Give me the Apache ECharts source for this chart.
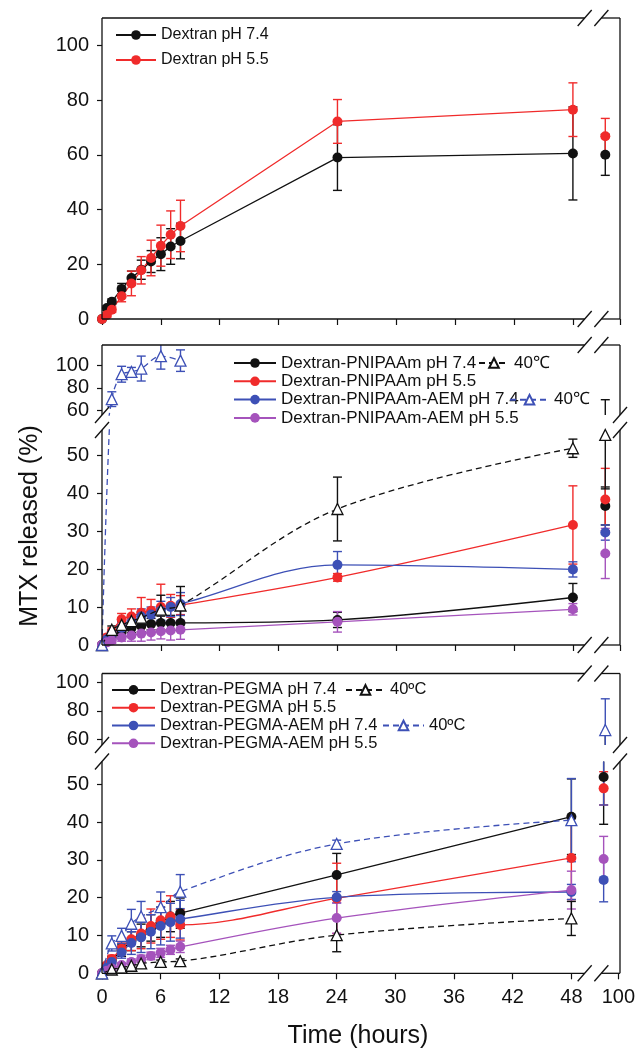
<!DOCTYPE html>
<html><head><meta charset="utf-8">
<script src="https://cdn.jsdelivr.net/npm/echarts@6/dist/echarts.min.js"></script>
<style>html,body{margin:0;padding:0;background:#fff}#c{width:638px;height:1050px}</style>
</head><body><div id="c"></div>
<script>
// ---------- data ----------
const hours    = [0, 0.5, 1, 2, 3, 4, 5, 6, 7, 8, 24, 48, 96];
const hoursTri = [0, 1, 2, 3, 4, 6, 8, 24, 48, 96];
const xTickHours = [0, 6, 12, 18, 24, 30, 36, 42, 48];
const xEndLabel = '100';
const yTicksP1 = [0, 20, 40, 60, 80, 100];
const yTicksLow = [0, 10, 20, 30, 40, 50];
const yTicksHigh = [60, 80, 100];

// Panel 1
const dex74    = [0, 4, 6.3, 11, 15, 18, 21, 23.7, 26.5, 28.5, 59, 60.5, 60];
const dex74Err = [0, 0.8, 1, 2, 2.5, 3.5, 4, 6, 6.5, 6.5, 12, 17, 7.5];
const dex55    = [0, 1.5, 3.4, 8.3, 13, 17.8, 22.3, 26.8, 30.8, 34, 72.2, 76.5, 66.8];
const dex55Err = [0, 0.8, 1, 2, 4.5, 5, 6.5, 7.5, 8.7, 9.4, 8, 9.8, 6.5];

// Panel 2
const pn74     = [0, 1.5, 2.5, 3.5, 4.5, 5, 5.5, 5.8, 5.8, 5.8, 6.6, 12.5, 36.6];
const pn74Err  = [0, 0.5, 0.8, 1, 1.2, 1.5, 1.5, 1.8, 2, 2, 2, 3.7, 5];
const pn55     = [0, 2, 3.5, 6.8, 7.5, 8.5, 9, 10, 10.3, 10.5, 17.8, 31.6, 38.3];
const pn55Err  = [0, 0.8, 1, 1.5, 2, 4, 3, 6, 3, 2.5, 1, 10.3, 8.2];
const pnA74    = [0, 1.5, 3, 4.5, 6, 7.5, 8, 9, 10, 10.8, 21.1, 19.9, 29.6];
const pnA74Err = [0, 0.5, 1, 1.5, 1.5, 2, 2, 2.5, 2.5, 3, 3.5, 2, 2];
const pnA55    = [0, 0.7, 1.2, 2, 2.5, 3, 3.3, 3.6, 3.8, 4, 6.1, 9.4, 24.1];
const pnA55Err = [0, 0.5, 0.8, 1, 1.5, 2, 2, 2, 2.5, 2.5, 2.7, 1.5, 6.6];
const pn74T40     = [0, 4, 5.3, 6.3, 7.2, 9.3, 10.4, 35.8, 51.8, 55.3];
const pn74T40Err  = [0, 1, 1, 1.2, 1.5, 3.8, 5, 8.4, 2.4, 14.2];
const pnA74T40    = [0, 70, 92, 94, 97, 108, 104, null, null, null];
const pnA74T40Err = [0, 6.5, 7, 4, 11, 11.5, 9.5, 0, 0, 0];

// Panel 3
const pg74     = [0, 2, 3.5, 6, 8.5, 10, 12, 13.5, 15, 15.9, 26, 41.4, 51.9];
const pg74Err  = [0, 0.5, 1, 1.5, 2.5, 3, 3.5, 4, 4, 4, 5.7, 10, 12.5];
const pg55     = [0, 2.2, 3.8, 6.5, 9, 10.5, 12.5, 14, 15, 12.8, 19.8, 30.5, 48.9];
const pg55Err  = [0, 0.5, 1, 1.5, 3, 4, 4.5, 5, 5.5, 4, 9.3, 11, 4.4];
const pgA74    = [0, 1.5, 3, 5.5, 8, 9.5, 11, 12.5, 13.5, 14.3, 20.1, 21.5, 24.7];
const pgA74Err = [0, 0.5, 1, 1.5, 3, 4, 4.5, 5, 5, 5, 1.5, 2, 5.8];
const pgA55    = [0, 0.7, 1.3, 2.2, 3, 3.8, 4.6, 5.4, 6.2, 7, 14.6, 22, 30.2];
const pgA55Err = [0, 0.3, 0.5, 0.5, 0.8, 1, 1, 1.2, 1.2, 1.5, 4, 5, 6];
const pg74T40     = [0, 1, 1.5, 2, 2.6, 3, 3.2, 10.1, 14.5, null];
const pg74T40Err  = [0, 0.3, 0.3, 0.4, 0.5, 0.5, 0.6, 4.4, 4.5, 0];
const pgA74T40    = [0, 7.9, 9.9, 13.1, 15, 17.5, 21.6, 34.2, 40.5, 66.5];
const pgA74T40Err = [0, 2, 2, 3.8, 4, 4, 4.5, 1, 11, 22];

// ---------- scale / style ----------
const FONT = '"Liberation Sans", Arial, sans-serif';
const C_BLACK = '#111111', C_RED = '#f02b2b', C_BLUE = '#3d50b6', C_PURPLE = '#a553bc';
const X_BREAK_A = 49.2, X_BREAK_B = 50.9, X_END = 52.8;
function mapX(t) { return t <= 48 ? t : 51.3 + (t - 96) * 0.375; }

const grids = [
  { top: 18,    height: 301 },   // panel 1
  { top: 345,   height: 70 },    // panel 2 upper
  { top: 430,   height: 215 },   // panel 2 lower
  { top: 673.5, height: 71.5 },  // panel 3 upper
  { top: 761.5, height: 211.8 }  // panel 3 lower
];
const yRanges = [[0, 110], [56, 117.8], [0, 56.6], [56, 106.3], [0, 56]];
const yTicks = [yTicksP1, yTicksHigh, yTicksLow, yTicksHigh, yTicksLow];

const option = {
  animation: false,
  backgroundColor: '#fff',
  grid: grids.map(g => ({ left: 102, right: 18, top: g.top, height: g.height, show: false })),
  xAxis: grids.map((g, i) => ({
    type: 'value', gridIndex: i, min: 0, max: X_END,
    axisLine: { show: false },
    splitLine: { show: false },
    axisTick: { show: i === 0 || i === 2 || i === 4, length: 6, customValues: xTickHours.concat([X_END]),
      lineStyle: { color: '#111', width: 1.2 } },
    axisLabel: { show: i === 4, customValues: xTickHours.concat([X_END]), margin: 14,
      fontSize: 20, fontFamily: FONT, color: '#111',
      formatter: v => (v > 50 ? xEndLabel : String(v)) }
  })),
  yAxis: grids.map((g, i) => ({
    type: 'value', gridIndex: i, min: yRanges[i][0], max: yRanges[i][1],
    axisLine: { show: false },
    splitLine: { show: false },
    axisTick: { show: true, length: 5, customValues: yTicks[i], lineStyle: { color: '#111', width: 1.2 } },
    axisLabel: { customValues: yTicks[i], margin: 13, fontSize: 20, fontFamily: FONT, color: '#111' }
  })),
  legend: [],
  series: [],
  graphic: []
};

function lineData(times, vals) {
  const d = [];
  times.forEach((t, i) => {
    if (vals[i] == null) return;
    if (t > 48 && d.length) d.push([mapX(t), null]);
    d.push([mapX(t), vals[i]]);
  });
  return d;
}
function errData(times, vals, errs) {
  const d = [];
  times.forEach((t, i) => { if (vals[i] != null && errs[i] > 0) d.push([mapX(t), vals[i], errs[i]]); });
  return d;
}
function errRender(color) {
  return function (params, api) {
    const cs = params.coordSys;
    const x = api.value(0), y = api.value(1), e = api.value(2);
    const pt = api.coord([x, y + e]), pb = api.coord([x, y - e]);
    const top = Math.max(pt[1], cs.y), bot = Math.min(pb[1], cs.y + cs.height);
    if (top >= bot) return null;
    const px = pt[0], w = 4.5, st = { stroke: color, lineWidth: 1.4 };
    const ch = [{ type: 'line', shape: { x1: px, y1: top, x2: px, y2: bot }, style: st }];
    if (pt[1] >= cs.y - 0.5) ch.push({ type: 'line', shape: { x1: px - w, y1: pt[1], x2: px + w, y2: pt[1] }, style: st });
    if (pb[1] <= cs.y + cs.height + 0.5) ch.push({ type: 'line', shape: { x1: px - w, y1: pb[1], x2: px + w, y2: pb[1] }, style: st });
    return { type: 'group', children: ch };
  };
}
function addSeries(g, name, times, vals, errs, color, tri, smooth) {
  option.series.push({
    type: 'custom', name: 'err-' + name + '-' + g, xAxisIndex: g, yAxisIndex: g, z: 2, silent: true,
    data: errData(times, vals, errs), encode: { x: 0, y: 1 }, renderItem: errRender(color)
  });
  option.series.push({
    type: 'line', name: name, xAxisIndex: g, yAxisIndex: g, z: tri ? 4 : 3, silent: true,
    data: lineData(times, vals), smooth: smooth, connectNulls: false,
    showAllSymbol: true, clip: true,
    symbol: tri ? 'triangle' : 'circle', symbolSize: tri ? 11 : 10,
    lineStyle: { color: color, width: 1.3, type: tri ? [6, 4] : 'solid' },
    itemStyle: tri ? { color: '#ffffff', borderColor: color, borderWidth: 1.3 } : { color: color }
  });
}

// Panel 1
addSeries(0, 'Dextran pH 7.4', hours, dex74, dex74Err, C_BLACK, false, false);
addSeries(0, 'Dextran pH 5.5', hours, dex55, dex55Err, C_RED, false, false);
// Panel 2 (upper and lower segments)
[1, 2].forEach(g => {
  addSeries(g, 'Dextran-PNIPAAm pH 7.4', hours, pn74, pn74Err, C_BLACK, false, 0.35);
  addSeries(g, 'Dextran-PNIPAAm pH 5.5', hours, pn55, pn55Err, C_RED, false, 0.35);
  addSeries(g, 'Dextran-PNIPAAm-AEM pH 7.4', hours, pnA74, pnA74Err, C_BLUE, false, 0.35);
  addSeries(g, 'Dextran-PNIPAAm-AEM pH 5.5', hours, pnA55, pnA55Err, C_PURPLE, false, 0.35);
  addSeries(g, 'Dextran-PNIPAAm pH 7.4 40℃', hoursTri, pn74T40, pn74T40Err, C_BLACK, true, 0.35);
  addSeries(g, 'Dextran-PNIPAAm-AEM pH 7.4 40℃', hoursTri, pnA74T40, pnA74T40Err, C_BLUE, true, 0.35);
});
// Panel 3
[3, 4].forEach(g => {
  addSeries(g, 'Dextran-PEGMA pH 7.4', hours, pg74, pg74Err, C_BLACK, false, 0.35);
  addSeries(g, 'Dextran-PEGMA pH 5.5', hours, pg55, pg55Err, C_RED, false, 0.35);
  addSeries(g, 'Dextran-PEGMA-AEM pH 7.4', hours, pgA74, pgA74Err, C_BLUE, false, 0.35);
  addSeries(g, 'Dextran-PEGMA-AEM pH 5.5', hours, pgA55, pgA55Err, C_PURPLE, false, 0.35);
  addSeries(g, 'Dextran-PEGMA pH 7.4 40ºC', hoursTri, pg74T40, pg74T40Err, C_BLACK, true, 0.35);
  addSeries(g, 'Dextran-PEGMA-AEM pH 7.4 40ºC', hoursTri, pgA74T40, pgA74T40Err, C_BLUE, true, 0.35);
});

function legend(left, top, w, fs, lh, gap, data, fmt) {
  const o = { orient: 'vertical', left: left, top: top, itemWidth: w, itemHeight: 12, itemGap: gap,
    selectedMode: false, padding: 0, data: data,
    textStyle: { fontSize: fs, lineHeight: lh, fontFamily: FONT, color: '#111' } };
  if (fmt) o.formatter = fmt;
  option.legend.push(o);
}
legend(115, 26, 40, 16, 18, 7, ['Dextran pH 7.4', 'Dextran pH 5.5']);
legend(233, 354, 42, 17, 18, 0.3, ['Dextran-PNIPAAm pH 7.4', 'Dextran-PNIPAAm pH 5.5',
  'Dextran-PNIPAAm-AEM pH 7.4', 'Dextran-PNIPAAm-AEM pH 5.5']);
legend(478, 354, 30, 17, 18, 0, ['Dextran-PNIPAAm pH 7.4 40℃'], '40℃');
legend(509, 390.7, 39, 17, 18, 0, ['Dextran-PNIPAAm-AEM pH 7.4 40℃'], '40℃');
legend(111, 681, 43, 16.5, 17.8, 0, ['Dextran-PEGMA pH 7.4', 'Dextran-PEGMA pH 5.5',
  'Dextran-PEGMA-AEM pH 7.4', 'Dextran-PEGMA-AEM pH 5.5']);
legend(345, 681, 39, 16.5, 17.8, 0, ['Dextran-PEGMA pH 7.4 40ºC'], '40ºC');
legend(382, 716.6, 41, 16.5, 17.8, 0, ['Dextran-PEGMA-AEM pH 7.4 40ºC'], '40ºC');

const chart = echarts.init(document.getElementById('c'), null, { renderer: 'canvas' });
chart.setOption(option);

// ---------- frames with axis-break marks ----------
const X = v => chart.convertToPixel({ xAxisIndex: 0 }, v);
const Y = (i, v) => chart.convertToPixel({ yAxisIndex: i }, v);
const L = X(0), R = X(X_END), XA = X(X_BREAK_A), XB = X(X_BREAK_B);
const G = [];
const frameStyle = { stroke: '#111', lineWidth: 1.3 };
function seg(x1, y1, x2, y2) { G.push({ type: 'line', shape: { x1, y1, x2, y2 }, style: frameStyle, z: 10 }); }
function slash(cx, cy) { G.push({ type: 'line', shape: { x1: cx - 7, y1: cy + 8, x2: cx + 7, y2: cy - 8 }, style: frameStyle, z: 10 }); }
function frame(top, bottom, gap) {
  [top, bottom].forEach(y => { seg(L, y, XA, y); seg(XB, y, R, y); slash(XA, y); slash(XB, y); });
  [L, R].forEach(x => {
    if (gap) { seg(x, top, x, gap[0]); seg(x, gap[1], x, bottom); slash(x, gap[0]); slash(x, gap[1]); }
    else seg(x, top, x, bottom);
  });
}
frame(Y(0, yRanges[0][1]), Y(0, yRanges[0][0]), null);
frame(Y(1, yRanges[1][1]), Y(2, yRanges[2][0]), [Y(1, yRanges[1][0]), Y(2, yRanges[2][1])]);
frame(Y(3, yRanges[3][1]), Y(4, yRanges[4][0]), [Y(3, yRanges[3][0]), Y(4, yRanges[4][1])]);

G.push({ type: 'text', x: 30, y: 526, rotation: Math.PI / 2, z: 10,
  style: { text: 'MTX released (%)', font: '25px ' + FONT, fill: '#111', textAlign: 'center', textVerticalAlign: 'middle' } });
G.push({ type: 'text', x: 358, y: 1036, z: 10,
  style: { text: 'Time (hours)', font: '25px ' + FONT, fill: '#111', textAlign: 'center', textVerticalAlign: 'middle' } });
chart.setOption({ graphic: G });
</script>
</body></html>
